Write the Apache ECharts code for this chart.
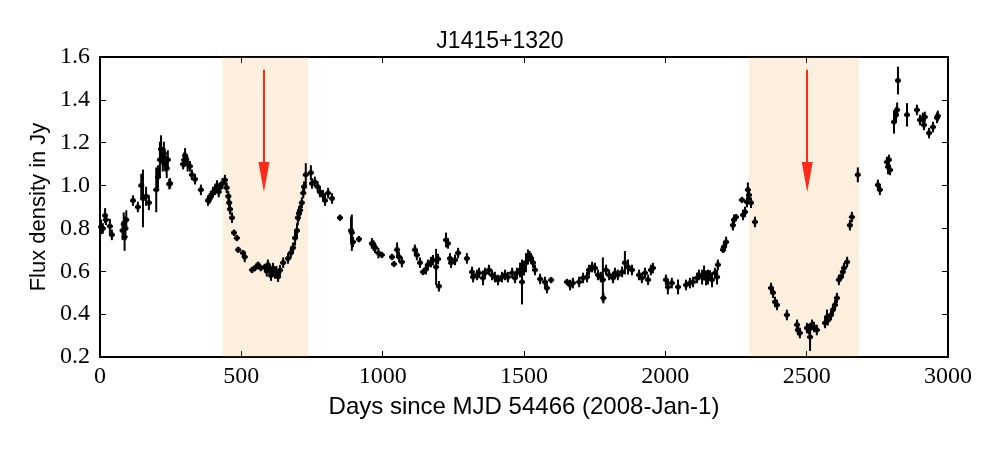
<!DOCTYPE html>
<html><head><meta charset="utf-8">
<script src="https://cdn.jsdelivr.net/npm/echarts@6/dist/echarts.min.js"></script>
<style>html,body{margin:0;padding:0;background:#fff}#c{width:1000px;height:450px}</style>
</head><body><div id="c"></div>
<script>
// ---- data ----
const days = [4,10,18,21,35,42,80,84,87,90,93,117,134,146,152,163,173,199,205,212,216,222,226,229,231,236,240,245,248,
294,298,301,305,310,318,325,336,357,382,388,392,400,407,414,420,424,433,
442,448,454,457,460,467,474,484,489,506,512,538,548,559,569,583,590,594,600,605,612,619,624,630,637,648,665,675,683,690,697,700,704,708,714,719,722,728,
746,750,760,770,778,789,796,807,821,849,888,891,895,916,962,968,973,985,997,1033,1040,1051,1058,1068,1114,1121,1132,1143,1153,1160,1171,1178,1189,1196,1199,1224,1231,1238,1242,1256,1267,1298,
1316,1320,1334,1341,1355,1362,1376,1387,1397,1408,1422,1433,1443,1458,1468,1475,1486,1493,1500,1507,1514,1520,1525,1532,1539,1557,1574,1581,1596,1652,1663,1673,1695,1709,
1723,1730,1741,1751,1762,1772,1779,1781,1790,1801,1815,1822,1832,1847,1857,1868,1882,1907,1917,1928,1939,1949,1956,2002,2009,2023,2045,2073,2087,2098,2112,2119,2130,2137,2144,2151,2158,2165,2176,2183,2186,
2204,2207,2215,2239,2243,2250,2271,2275,2282,2289,2292,2296,2303,2317,
2374,2381,2388,2395,2430,2466,2469,2476,2501,2508,2512,2519,2526,2536,2565,2572,2575,2586,2593,2600,2607,2614,2621,2628,2632,2643,2653,2660,2681,
2752,2759,2784,2788,2791,2795,2809,2816,2820,2823,2855,2890,2901,2911,2915,2918,2933,2947,2961,2964];
const flux = [0.807,0.80,0.86,0.84,0.81,0.77,0.79,0.82,0.76,0.80,0.84,0.93,0.90,1.00,0.94,0.95,0.92,0.98,1.04,1.12,1.17,1.11,1.15,1.13,1.10,1.08,1.12,1.007,1.01,
1.10,1.12,1.14,1.12,1.10,1.09,1.05,1.03,0.98,0.93,0.94,0.95,0.97,0.98,1.00,0.97,0.99,1.01,
1.026,0.99,0.95,0.92,0.89,0.85,0.78,0.755,0.70,0.685,0.667,0.606,0.615,0.63,0.615,0.62,0.60,0.63,0.61,0.58,0.615,0.59,0.60,0.575,0.605,0.64,0.66,0.685,0.71,0.755,0.79,0.85,0.87,0.885,0.92,0.965,0.995,1.05,
1.06,1.01,1.017,0.995,0.97,0.955,0.93,0.965,0.94,0.85,0.79,0.78,0.737,0.75,0.73,0.72,0.71,0.685,0.676,0.667,0.634,0.70,0.667,0.643,0.70,0.676,0.64,0.597,0.61,0.63,0.643,0.652,0.62,0.657,0.53,0.746,0.73,0.66,0.64,0.653,0.685,0.66,
0.597,0.573,0.583,0.592,0.569,0.592,0.606,0.583,0.573,0.559,0.573,0.583,0.573,0.592,0.569,0.592,0.606,0.55,0.615,0.64,0.667,0.67,0.66,0.64,0.606,0.564,0.55,0.522,0.559,0.55,0.536,0.545,0.55,0.569,
0.573,0.606,0.62,0.615,0.583,0.573,0.56,0.475,0.606,0.583,0.569,0.592,0.583,0.597,0.64,0.62,0.606,0.583,0.569,0.592,0.56,0.606,0.615,0.56,0.527,0.545,0.527,0.536,0.545,0.55,0.569,0.583,0.573,0.592,0.569,0.573,0.58,0.56,0.592,0.573,0.63,
0.70,0.713,0.737,0.815,0.84,0.853,0.933,0.863,0.877,0.923,0.98,0.956,0.92,0.83,
0.522,0.50,0.457,0.443,0.396,0.35,0.326,0.312,0.335,0.33,0.293,0.35,0.34,0.326,0.359,0.387,0.372,0.396,0.42,0.443,0.475,0.56,0.573,0.597,0.615,0.643,0.815,0.853,1.05,
1.003,0.98,1.11,1.087,1.12,1.073,1.297,1.33,1.353,1.49,1.33,1.353,1.306,1.316,1.283,1.32,1.245,1.273,1.316,1.325];
const err = [0.03,0.02,0.03,0.02,0.03,0.02,0.04,0.05,0.06,0.05,0.04,0.02,0.02,0.05,0.13,0.04,0.03,0.10,0.05,0.08,0.06,0.04,0.05,0.04,0.03,0.04,0.04,0.02,0.02,
0.02,0.03,0.03,0.02,0.03,0.02,0.02,0.02,0.02,0.02,0.02,0.02,0.02,0.02,0.02,0.02,0.02,0.02,
0.02,0.02,0.02,0.02,0.02,0.02,0.01,0.01,0.01,0.01,0.02,0.01,0.01,0.01,0.01,0.01,0.02,0.02,0.02,0.02,0.02,0.02,0.02,0.02,0.02,0.02,0.02,0.02,0.02,0.03,0.03,0.03,0.03,0.02,0.02,0.02,0.02,0.05,
0.03,0.02,0.02,0.02,0.02,0.02,0.02,0.02,0.02,0.01,0.06,0.08,0.02,0.01,0.02,0.02,0.02,0.02,0.01,0.01,0.01,0.03,0.02,0.02,0.02,0.02,0.02,0.01,0.02,0.02,0.02,0.02,0.08,0.02,0.02,0.03,0.02,0.02,0.02,0.02,0.02,0.02,
0.02,0.02,0.02,0.02,0.03,0.02,0.02,0.02,0.02,0.02,0.02,0.02,0.02,0.02,0.02,0.02,0.03,0.10,0.03,0.04,0.03,0.02,0.02,0.02,0.02,0.02,0.02,0.02,0.01,0.01,0.02,0.02,0.02,0.02,
0.02,0.02,0.02,0.02,0.02,0.02,0.10,0.02,0.02,0.02,0.02,0.02,0.02,0.02,0.05,0.03,0.02,0.02,0.02,0.02,0.02,0.02,0.02,0.02,0.03,0.02,0.03,0.02,0.02,0.02,0.02,0.02,0.03,0.03,0.03,0.03,0.02,0.03,0.02,0.03,0.02,
0.01,0.02,0.02,0.02,0.02,0.01,0.01,0.02,0.02,0.02,0.03,0.02,0.02,0.02,
0.02,0.02,0.02,0.02,0.02,0.02,0.02,0.02,0.02,0.02,0.06,0.02,0.02,0.02,0.02,0.03,0.02,0.02,0.02,0.02,0.02,0.02,0.01,0.02,0.02,0.02,0.02,0.02,0.03,
0.02,0.02,0.02,0.03,0.02,0.02,0.05,0.03,0.03,0.06,0.05,0.02,0.02,0.02,0.02,0.02,0.02,0.02,0.02,0.02];
const shadeRanges = [[433, 736], [2296, 2685]];
const arrowDays = [580, 2502];
const arrowFrom = 1.54, arrowTo = 1.04;
const xTicks = [0, 3000, 500];
const yTicks = [0.2, 1.6, 0.2];
const titleText = 'J1415+1320';
const xName = 'Days since MJD 54466 (2008-Jan-1)';
const yName = 'Flux density in Jy';

// ---- chart ----
const pts = days.map((d, i) => [d, flux[i], err[i]]);
const chart = echarts.init(document.getElementById('c'), null, {renderer: 'canvas'});
const tickFont = {fontFamily: 'Liberation Serif', fontSize: 24, color: '#000'};
const axisCommon = {
  axisLine: {show: true, onZero: false, lineStyle: {color: '#000', width: 2}},
  axisTick: {show: true, inside: true, length: 6, lineStyle: {color: '#000', width: 1}},
  splitLine: {show: false}
};
chart.setOption({
  animation: false,
  backgroundColor: '#fff',
  title: {text: titleText, left: 'center', top: 25, textStyle: {fontFamily: 'Liberation Sans', fontSize: 23, fontWeight: 'normal', color: '#000'}},
  grid: {left: 100, right: 52, top: 57, bottom: 93, containLabel: false},
  xAxis: [
    Object.assign({type: 'value', min: xTicks[0], max: xTicks[1], interval: xTicks[2], position: 'bottom',
      name: xName, nameLocation: 'middle', nameGap: 38, nameMoveOverlap: false,
      nameTextStyle: {fontFamily: 'Liberation Sans', fontSize: 24, color: '#000', verticalAlign: 'top'},
      axisLabel: Object.assign({margin: 8, formatter: v => String(v)}, tickFont)}, axisCommon),
    Object.assign({type: 'value', min: xTicks[0], max: xTicks[1], interval: xTicks[2], position: 'top',
      axisLabel: {show: false}}, axisCommon)
  ],
  yAxis: [
    Object.assign({type: 'value', min: yTicks[0], max: yTicks[1], interval: yTicks[2], position: 'left',
      name: yName, nameLocation: 'middle', nameGap: 50, nameMoveOverlap: false,
      nameTextStyle: {fontFamily: 'Liberation Sans', fontSize: 22, color: '#000'},
      axisLabel: Object.assign({margin: 10, formatter: v => v.toFixed(1)}, tickFont)}, axisCommon),
    Object.assign({type: 'value', min: yTicks[0], max: yTicks[1], interval: yTicks[2], position: 'right',
      axisLabel: {show: false}}, axisCommon)
  ],
  series: [
    {
      type: 'custom', z: 2,
      renderItem: function (params, api) {
        const x = api.value(0), y = api.value(1), e = api.value(2);
        const p0 = api.coord([x, y - e]);
        const p1 = api.coord([x, y + e]);
        const c = api.coord([x, y]);
        return {type: 'group', children: [
          {type: 'line', shape: {x1: p0[0], y1: p0[1] + 1, x2: p1[0], y2: p1[1] - 1}, style: {stroke: '#000', lineWidth: 2}},
          {type: 'line', shape: {x1: c[0] - 3, y1: c[1], x2: c[0] + 3, y2: c[1]}, style: {stroke: '#000', lineWidth: 2}}
        ]};
      },
      data: pts
    },
    {
      type: 'scatter', z: 3, symbol: 'circle', symbolSize: 5.5,
      itemStyle: {color: '#000'}, data: pts.map(p => [p[0], p[1]])
    },
    {
      type: 'line', z: 5, data: [], silent: true,
      markArea: {silent: true, itemStyle: {color: 'rgba(245,155,50,0.16)'},
        data: shadeRanges.map(r => [{xAxis: r[0]}, {xAxis: r[1]}])},
      markLine: {silent: true, symbol: ['none', 'triangle'], symbolSize: [11, 30],
        lineStyle: {color: '#ff2a1a', width: 2, type: 'solid'}, label: {show: false},
        data: arrowDays.map(d => [{coord: [d, arrowFrom]}, {coord: [d, arrowTo]}])}
    }
  ]
});
</script></body></html>
